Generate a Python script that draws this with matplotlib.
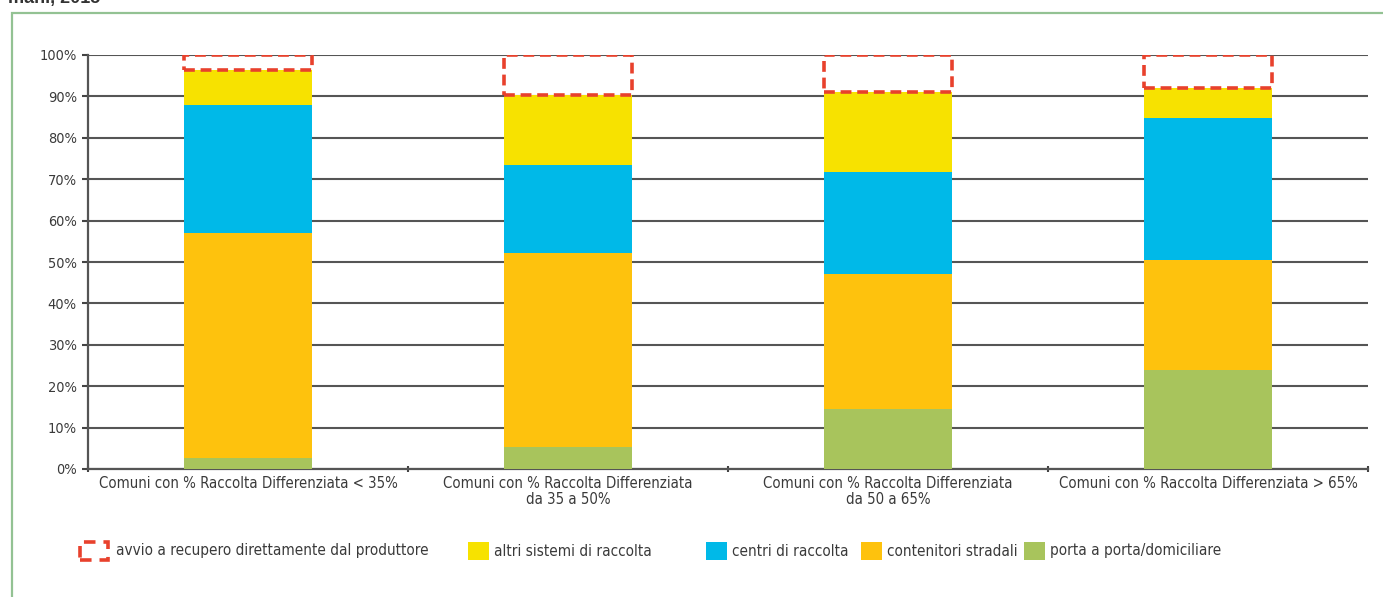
import matplotlib
matplotlib.use("Agg")
import matplotlib.pyplot as plt
from matplotlib.patches import Rectangle
from matplotlib import font_manager as fm
import numpy as np

categories = ["Comuni con % Raccolta Differenziata < 35%",
              "Comuni con % Raccolta Differenziata\nda 35 a 50%",
              "Comuni con % Raccolta Differenziata\nda 50 a 65%",
              "Comuni con % Raccolta Differenziata > 65%"]
porta_a_porta = [2.6, 5.4, 14.5, 23.9]
contenitori_stradali = [54.3, 46.7, 32.5, 26.6]
centri_raccolta = [31.0, 21.3, 24.8, 34.2]
altri_sistemi = [8.5, 16.9, 19.3, 7.3]
avvio_recupero = [3.6, 9.7, 8.9, 8.0]
yticks = [0, 10, 20, 30, 40, 50, 60, 70, 80, 90, 100]

series_labels = ["porta a porta/domiciliare", "contenitori stradali",
                 "centri di raccolta", "altri sistemi di raccolta"]
colors = ["#a8c45c", "#fec20d", "#00b9e8", "#f7e200"]
red = "#e8412c"
txt = "#3a3a3a"

# find a condensed font if any
cands = []
for f in fm.fontManager.ttflist:
    n = (f.fname + " " + f.name).lower()
    if ("narrow" in n or "condensed" in n) and "bold" not in n and "italic" not in n \
            and "oblique" not in n and "light" not in n and "mono" not in n:
        cands.append(f)
cond_prop = None
if cands:
    cands.sort(key=lambda f: (0 if "liberation" in f.fname.lower() else 1, f.fname))
    cond_prop = fm.FontProperties(fname=cands[0].fname)

W, H = 1383, 597
fig = plt.figure(figsize=(W/100, H/100), dpi=100)
renderer = fig.canvas.get_renderer()

def fit_text(t, target_px):
    t.set_fontsize(12)
    w = t.get_window_extent(renderer).width
    t.set_fontsize(12 * target_px / w)

def make_fp():
    if cond_prop is not None:
        return cond_prop.copy()
    return fm.FontProperties(family="DejaVu Sans")

ax = fig.add_axes([88/W, 1-469/H, (1368-88)/W, (469-55)/H])

x = np.arange(len(categories))
bottom = np.zeros(len(categories))
for vals, col, lab in zip([porta_a_porta, contenitori_stradali, centri_raccolta, altri_sistemi],
                          colors, series_labels):
    ax.bar(x, vals, width=0.4, bottom=bottom, color=col, zorder=3, label=lab)
    bottom += np.array(vals)
ax.bar(x, avvio_recupero, width=0.4, bottom=bottom, fill=False, edgecolor=red,
       linestyle=(0, (3, 1.6)), linewidth=2.6, zorder=4)

ax.set_xlim(-0.5, len(categories) - 0.5)
ax.set_ylim(0, 100)
ax.set_yticks(yticks)
ax.set_yticklabels([f"{v}%" for v in yticks], color=txt)
ax.yaxis.grid(True, color="#555555", linewidth=1.5, zorder=0)
ax.set_xticks(x)
ax.set_xticklabels(categories, color=txt, linespacing=1.1)
ax.set_xticks(np.arange(-0.5, len(categories)), minor=True)
ax.tick_params(axis='x', which='major', length=0, pad=5)
ax.tick_params(axis='x', which='minor', length=5, direction='inout', color="#444444", width=1.5)
ax.tick_params(axis='y', length=4, direction='out', color="#444444", width=1.5, pad=4)
for s in ['top', 'right']:
    ax.spines[s].set_visible(False)
for s in ['left', 'bottom']:
    ax.spines[s].set_color("#555555")
    ax.spines[s].set_linewidth(1.6)

for t in ax.get_xticklabels():
    t.set_fontproperties(make_fp())
fig.canvas.draw()
xl = ax.get_xticklabels()
fit_text(xl[0], 298)
fs_x = xl[0].get_fontsize()
for t in xl:
    t.set_fontsize(fs_x)
for t in ax.get_yticklabels():
    t.set_fontproperties(make_fp())
    t.set_fontsize(fs_x * 0.97)

# green frame
fig.add_artist(Rectangle((12/W, -0.1), 1.2, 1 - 13/H + 0.1, transform=fig.transFigure,
                         fill=False, edgecolor="#93c293", linewidth=1.6))
# cut-off title (as in the reference, only its lower part is visible)
fig.text(8/W, 1 + 2/H, "mani, 2015", color="#333333", va='center', ha='left',
         family="Liberation Sans", fontweight='bold', fontsize=13)

# legend
ly = 551
def fx(px): return px / W
def fy(py): return 1 - py / H
fig.add_artist(Rectangle((fx(80), fy(ly + 9)), 28/W, 18/H, transform=fig.transFigure,
                         fill=False, edgecolor=red, linewidth=2.6, linestyle=(0, (3.2, 2.2))))
t0 = fig.text(fx(116), fy(ly), "avvio a recupero direttamente dal produttore",
              color=txt, va='center', ha='left', fontproperties=make_fp())
fit_text(t0, 313)
fs_l = t0.get_fontsize()
leg_items = [(468, "altri sistemi di raccolta", colors[3]),
             (706, "centri di raccolta", colors[2]),
             (861, "contenitori stradali", colors[1]),
             (1024, "porta a porta/domiciliare", colors[0])]
for px, lab, col in leg_items:
    fig.add_artist(Rectangle((fx(px), fy(ly + 9)), 21/W, 18/H, transform=fig.transFigure,
                             facecolor=col, edgecolor='none'))
    tl = fig.text(fx(px + 26), fy(ly), lab, color=txt, va='center', ha='left',
                  fontproperties=make_fp())
    tl.set_fontsize(fs_l)

fig.savefig("out.png", dpi=100)
